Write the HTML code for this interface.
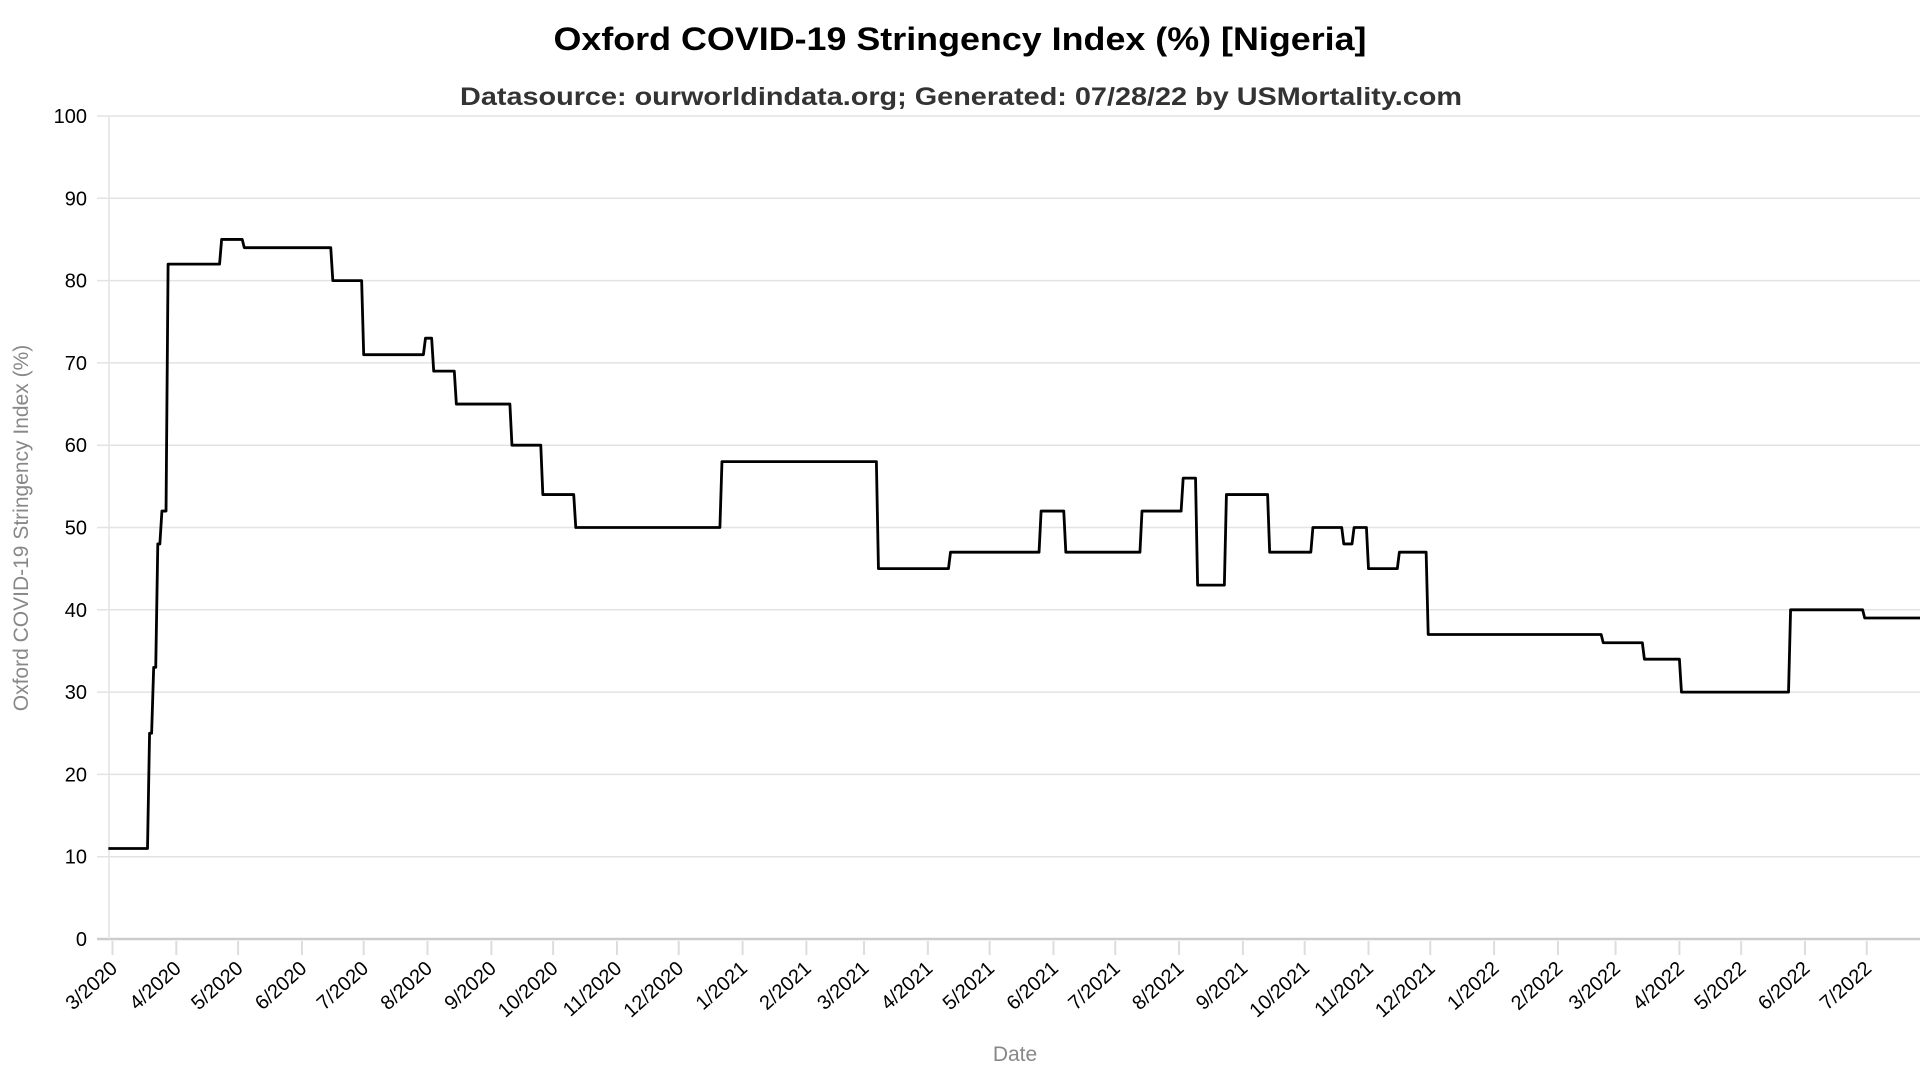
<!DOCTYPE html>
<html><head><meta charset="utf-8">
<style>
html,body{margin:0;padding:0;background:#fff;}
svg{display:block;font-family:"Liberation Sans",Arial,sans-serif;}
</style></head>
<body>
<svg id="chart" width="1920" height="1080" viewBox="0 0 1920 1080" xmlns="http://www.w3.org/2000/svg">
  <text x="960" y="50" text-anchor="middle" font-size="32" font-weight="bold" fill="#000" textLength="813" lengthAdjust="spacingAndGlyphs">Oxford COVID-19 Stringency Index (%) [Nigeria]</text>
  <text x="961" y="105" text-anchor="middle" font-size="25" font-weight="bold" fill="#333" textLength="1002" lengthAdjust="spacingAndGlyphs">Datasource: ourworldindata.org; Generated: 07/28/22 by USMortality.com</text>
  <g id="grid"></g>
  <g id="yticks"></g>
  <g id="xticks"></g>
  <path id="series" fill="none" stroke="#000" stroke-width="2.8" stroke-linejoin="round"/>
  <text transform="translate(28,528) rotate(-90)" text-anchor="middle" font-size="21" fill="#888">Oxford COVID-19 Stringency Index (%)</text>
  <text x="1015" y="1061" text-anchor="middle" font-size="21" fill="#888">Date</text>
</svg>
<script>
const changeDates = ["2020-02-28","2020-03-18","2020-03-20","2020-03-22","2020-03-24","2020-03-27","2020-04-22","2020-05-03","2020-06-15","2020-06-30","2020-07-30","2020-08-03","2020-08-14","2020-09-10","2020-09-25","2020-10-11","2020-12-21","2021-03-07","2021-04-11","2021-05-25","2021-06-06","2021-07-13","2021-08-02","2021-08-09","2021-08-23","2021-09-13","2021-10-04","2021-10-19","2021-10-24","2021-10-31","2021-11-15","2021-11-29","2022-02-22","2022-03-14","2022-04-01","2022-05-24","2022-06-29"];
const changeValues = [11,25,33,48,52,82,85,84,80,71,73,69,65,60,54,50,58,45,47,52,47,52,56,43,54,47,50,48,50,45,47,37,36,34,30,40,39];
const endDate = "2022-07-27";
const yTicks = [0,10,20,30,40,50,60,70,80,90,100];
const xTickLabels = ["3/2020","4/2020","5/2020","6/2020","7/2020","8/2020","9/2020","10/2020","11/2020","12/2020","1/2021","2/2021","3/2021","4/2021","5/2021","6/2021","7/2021","8/2021","9/2021","10/2021","11/2021","12/2021","1/2022","2/2022","3/2022","4/2022","5/2022","6/2022","7/2022"];

const NS = "http://www.w3.org/2000/svg";
const DAY = 86400000;
const t0 = Date.UTC(2020,2,1);
const pxPerDay = 2.059, x0 = 112.5;
function xScale(ms){ return x0 + (ms - t0)/DAY*pxPerDay; }
function yScale(v){ return 939 - v*8.23; }
function parse(s){ const p=s.split("-").map(Number); return Date.UTC(p[0],p[1]-1,p[2]); }
function mk(tag, attrs, parent){ const e=document.createElementNS(NS,tag); for(const k in attrs) e.setAttribute(k,attrs[k]); parent.appendChild(e); return e; }

const grid = document.getElementById("grid");
const yg = document.getElementById("yticks");
const xg = document.getElementById("xticks");
const plotL = 109, plotR = 1920;

yTicks.forEach(v=>{
  const y = yScale(v);
  const gl = mk("line",{x1:plotL-12,x2:plotR,y1:y,y2:y,stroke:v===0?"#ccc":"#e3e3e3","stroke-width":v===0?2.5:1.5},grid);
  
  
  const t = mk("text",{x:plotL-22,y:y+7,"text-anchor":"end","font-size":20,fill:"#000"},yg);
  t.textContent = v;
  
  
});
const ax = mk("line",{x1:plotL,x2:plotL,y1:yScale(100),y2:yScale(0),stroke:"#e3e3e3","stroke-width":1.5},grid);



xTickLabels.forEach(lbl=>{
  const p = lbl.split("/").map(Number);
  const x = xScale(Date.UTC(p[1],p[0]-1,1));
  const tk = mk("line",{x1:x,x2:x,y1:941,y2:955,stroke:"#ddd","stroke-width":2},xg);
  
  
  const t = mk("text",{x:x+6,y:970,"text-anchor":"end","font-size":20,fill:"#000",transform:`rotate(-42 ${x+6} 970)`},xg);
  t.textContent = lbl;
  
  
});

let d = "";
for(let i=0;i<changeDates.length;i++){
  const ms = parse(changeDates[i]);
  if(i===0){ d += `M${xScale(ms)},${yScale(changeValues[0])}`; }
  else {
    d += ` L${xScale(ms)},${yScale(changeValues[i-1])} L${xScale(ms+DAY)},${yScale(changeValues[i])}`;
  }
}
d += ` L${xScale(parse(endDate))},${yScale(changeValues[changeValues.length-1])}`;
document.getElementById("series").setAttribute("d", d);
</script>
</body></html>
